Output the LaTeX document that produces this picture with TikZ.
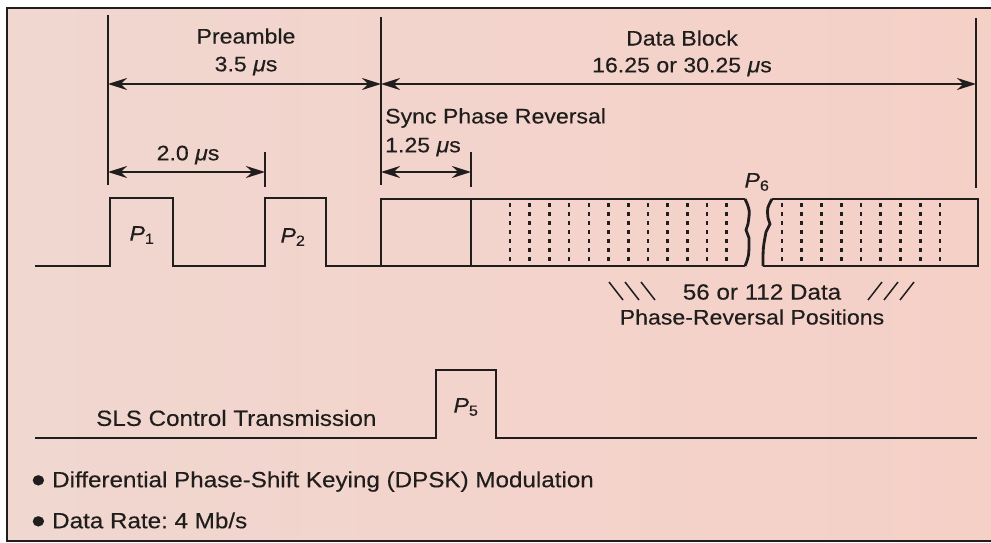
\documentclass[tikz,border=0pt]{standalone}
\usepackage{fontspec}
\setmainfont{Liberation Sans}[FakeStretch=1.1,FakeBold=0.3]
\usetikzlibrary{arrows.meta,positioning}
\definecolor{pinkl}{RGB}{240,215,208}
\definecolor{pinkr}{RGB}{245,208,199}
\definecolor{ink}{RGB}{32,29,29}
\newcommand{\bigdot}{\makebox[21pt][l]{\raisebox{-5.5pt}{\scalebox{1.7}{\textbullet}}}}

\begin{document}
\frenchspacing
\begin{tikzpicture}[x=1pt,y=-1pt,font=\fontsize{21}{25}\selectfont,
   wave/.style={draw=ink,line width=2.8pt},
   tick/.style={draw=ink,line width=2.2pt},
   dim/.style={draw=ink,line width=2.2pt,
               {Stealth[length=19pt,width=12pt]}-{Stealth[length=19pt,width=12pt]}},
   lbl/.style={text=ink,inner sep=0pt},
   note/.style={lbl,anchor=west,font=\fontsize{22}{26}\selectfont},
   revline/.style={draw=ink,line width=2.6pt,dash pattern=on 4pt off 5pt}]
  \useasboundingbox (0,0) rectangle (991,543);
  % paper and frame
  \shade[left color=pinkl,right color=pinkr] (7,8) rectangle (991,541);
  \draw[ink,line width=2.2pt] (991,8) -- (7,8) -- (7,541) -- (991,541);
  % ticks
  \coordinate (a0) at (108,15);  \coordinate (a1) at (108,185);
  \coordinate (b0) at (381,17);  \coordinate (b1) at (381,185);
  \coordinate (c0) at (976,18);  \coordinate (c1) at (976,188);
  \coordinate (d0) at (265,152); \coordinate (d1) at (265,187);
  \coordinate (e0) at (471,152); \coordinate (e1) at (471,187);
  \draw[tick] (a0) -- (a1);
  \draw[tick] (b0) -- (b1);
  \draw[tick] (c0) -- (c1);
  \draw[tick] (d0) -- (d1);
  \draw[tick] (e0) -- (e1);
  % dimension arrows
  \draw[dim] (a0 |- 0,84) -- (b0 |- 0,84);
  \draw[dim] (b0 |- 0,84) -- (c0 |- 0,84);
  \draw[dim] (a0 |- 0,172) -- (d0 |- 0,172);
  \draw[dim] (b0 |- 0,172) -- (e0 |- 0,172);
  \node[lbl] (pre) at (246,36) {Preamble};
  \node[lbl] (pret) at (246,66) {3.5 \textit{μ}s};
  \node[lbl] (blk) at (682,38) {Data Block};
  \node[lbl] (blkt) at (682,67) {16.25 or 30.25 \textit{μ}s};
  \node[lbl] (two) at (188,155) {2.0 \textit{μ}s};
  \node[lbl,anchor=west] (sync) at (385,118) {Sync Phase Reversal};
  \node[lbl,anchor=west] (synct) at (385,147) {1.25 \textit{μ}s};
  % pulse train
  \draw[wave] (35,266) -- (110,266) -- (110,198) -- (173,198) -- (173,266)
     -- (265,266) -- (265,198) -- (326,198) -- (326,266) -- (381,266);
  \draw[wave] (745,199) -- (381,199) -- (381,266) -- (745,266);
  \draw[wave] (745,199) .. controls (750,210) .. (748,224) -- (746,230)
     -- (749,238) .. controls (749,256) .. (745,266);
  \draw[wave] (772,199) -- (978,199) -- (978,266) -- (763,266);
  \draw[wave] (772,199) .. controls (767,208) .. (768,218) -- (770,224)
     -- (766,232) .. controls (763,248) .. (763,266);
  \draw[tick] (471,199) -- (471,266);
  \foreach \i in {0,...,11}
    \draw[revline] (510+19.7*\i,203) -- ++(0,62);
  \foreach \i in {0,...,8}
    \draw[revline] (782+19.75*\i,203) -- ++(0,62);
  \node[lbl] (pone) at (142,235) {\textit{P}\textsubscript{1}};
  \node[lbl] (ptwo) at (293,237) {\textit{P}\textsubscript{2}};
  \node[lbl] (psix) at (757,182) {\textit{P}\textsubscript{6}};
  % phase reversal positions
  \foreach \i in {0,1,2}
    \draw[ink,line width=1.5pt] (609+16*\i,282) -- ++(14,18);
  \foreach \i in {0,1,2}
    \draw[ink,line width=1.5pt] (868+16*\i,300) -- ++(14,-18);
  \node[lbl,font=\fontsize{22}{26}\selectfont] (npos) at (762,292) {56 or 112 Data};
  \node[lbl] (ppos) at (752,317) {Phase-Reversal Positions};
  % SLS control
  \draw[wave] (35,438) -- (436,438) -- (436,370) -- (496,370) -- (496,438) -- (977,438);
  \node[note] (sls) at (96,418) {SLS Control Transmission};
  \node[lbl] (pfive) at (466,407) {\textit{P}\textsubscript{5}};
  \node[note] (dpsk) at (31,482) {\bigdot Differential Phase-Shift Keying (DPSK) Modulation};
  \node[note] (rate) at (31,523) {\bigdot Data Rate: 4 Mb/s};
\end{tikzpicture}
\end{document}
